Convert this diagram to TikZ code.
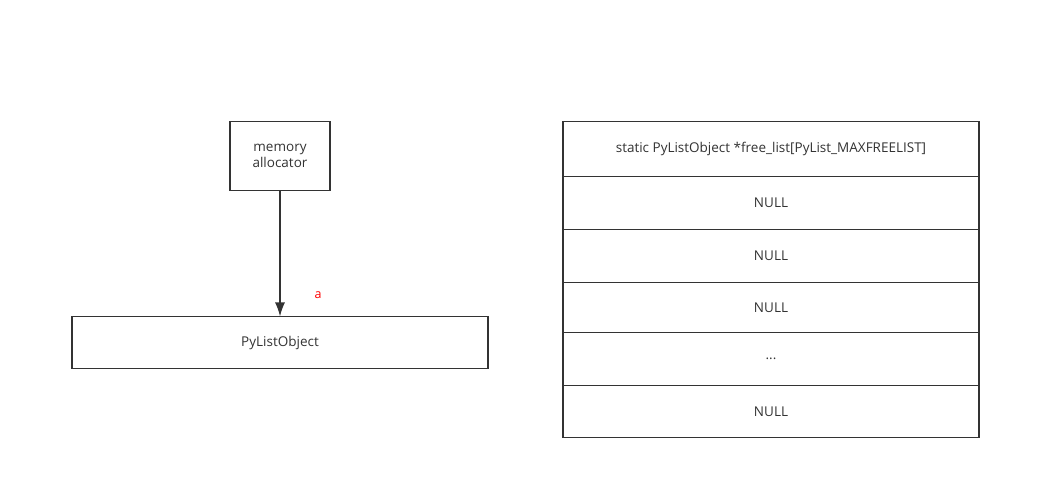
\documentclass[tikz,border=0pt]{standalone}
\usepackage{fontspec}
\setmainfont{Open Sans}
\usepackage{xcolor}
\usepackage{tikz}
\usetikzlibrary{arrows.meta,positioning}
\definecolor{ink}{HTML}{333333}

\begin{document}
\begin{tikzpicture}[x=1pt,y=1pt,line width=1.5pt,draw=ink,text=ink,
    font=\fontsize{13.5}{16}\selectfont]
  \tikzstyle{block} = [draw,fill=white,inner sep=2pt,outer sep=0pt,align=center]
  \tikzstyle{cell} = [block,minimum width=416pt]
  \useasboundingbox (0,0) rectangle (1042,500);
  %
  % left side
  \node[block,minimum width=100pt,minimum height=69pt] (alloc) at (280,344) {memory\\allocator};
  \node[block,minimum width=416pt,minimum height=52pt] (obj) at (280,157.5) {PyListObject};
  \draw[-{Latex[length=14pt,width=10pt]},ink] (alloc) -- (obj);
  \node[text=red,font=\fontsize{12.5}{14}\selectfont] (lbl) at (318,205) {a};
  %
  % free list table
  \node[cell,minimum height=55pt] (head) at (771,351) {static PyListObject *free\_list[PyList\_MAXFREELIST]};
  \node[cell,minimum height=53pt,below=0pt of head] (r1) {NULL};
  \node[cell,minimum height=53pt,below=0pt of r1] (r2) {NULL};
  \node[cell,minimum height=50pt,below=0pt of r2] (r3) {NULL};
  \node[cell,minimum height=53pt,below=0pt of r3] (r4) {...};
  \node[cell,minimum height=52pt,below=0pt of r4] (r5) {NULL};
\end{tikzpicture}
\end{document}
